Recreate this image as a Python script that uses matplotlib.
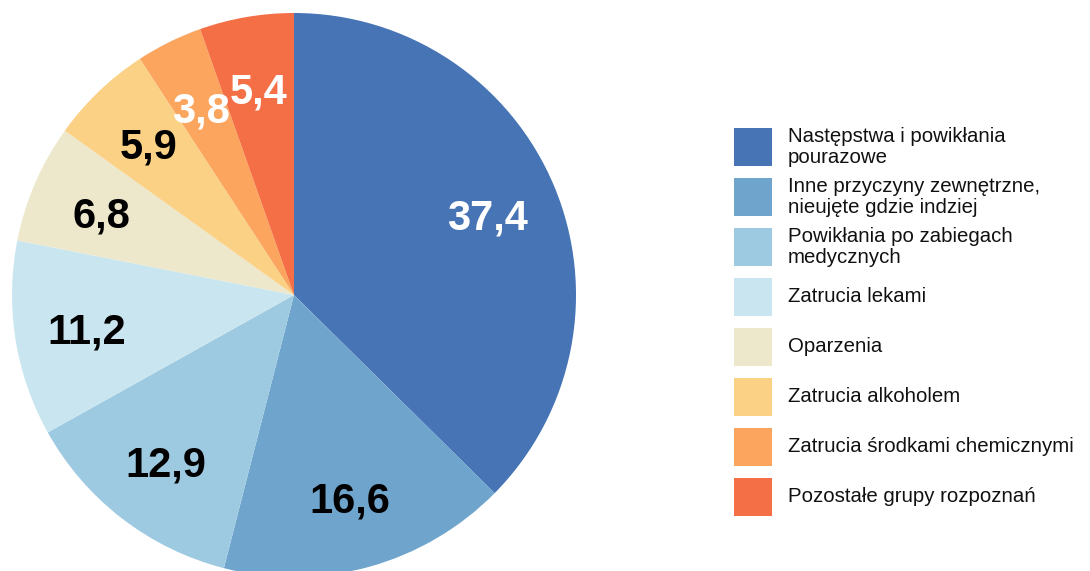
import matplotlib.pyplot as plt
from matplotlib.patches import Rectangle

plt.rcParams['font.family'] = ['Liberation Sans', 'DejaVu Sans']

# Share of diagnoses (percent)
categories = [
    "Następstwa i powikłania\npourazowe",
    "Inne przyczyny zewnętrzne,\nnieujęte gdzie indziej",
    "Powikłania po zabiegach\nmedycznych",
    "Zatrucia lekami",
    "Oparzenia",
    "Zatrucia alkoholem",
    "Zatrucia środkami chemicznymi",
    "Pozostałe grupy rozpoznań",
]
values = [37.4, 16.6, 12.9, 11.2, 6.8, 5.9, 3.8, 5.4]
colors = ["#4674b5", "#6fa5cc", "#9ecae1", "#c9e6f0",
          "#ede8cb", "#fbd186", "#fba55e", "#f46f45"]
label_colors = ["white", "black", "black", "black",
                "black", "black", "white", "white"]

W, H = 1090, 571
fig = plt.figure(figsize=(W / 100, H / 100), dpi=100)
ax = fig.add_axes([0, 0, 1, 1])

# pie drawn in pixel coordinates so the legend can share the same axes
cx, cy, r = 294, H - 295, 282
wedges, texts = ax.pie(
    values, colors=colors, startangle=90, counterclock=False,
    radius=r, center=(cx, cy),
    labels=[f"{v:.1f}".replace(".", ",") for v in values],
    labeldistance=0.745,
    wedgeprops=dict(linewidth=0),
)
for t, c in zip(texts, label_colors):
    t.set_color(c)
    t.set_fontsize(30)
    t.set_fontweight("bold")
    t.set_ha("center")
    t.set_va("center_baseline")

ax.set_xlim(0, W)
ax.set_ylim(0, H)
ax.set_aspect("equal")
ax.axis("off")

# legend
box = 38
for i, (lab, col) in enumerate(zip(categories, colors)):
    top = 128 + 50 * i
    ax.add_patch(Rectangle((734, H - top - box), box, box, color=col, lw=0))
    ax.text(788, H - top - box / 2, lab, fontsize=14.7, va="center", ha="left",
            linespacing=1.12, color="#111111")

fig.savefig("out.png", dpi=100)
